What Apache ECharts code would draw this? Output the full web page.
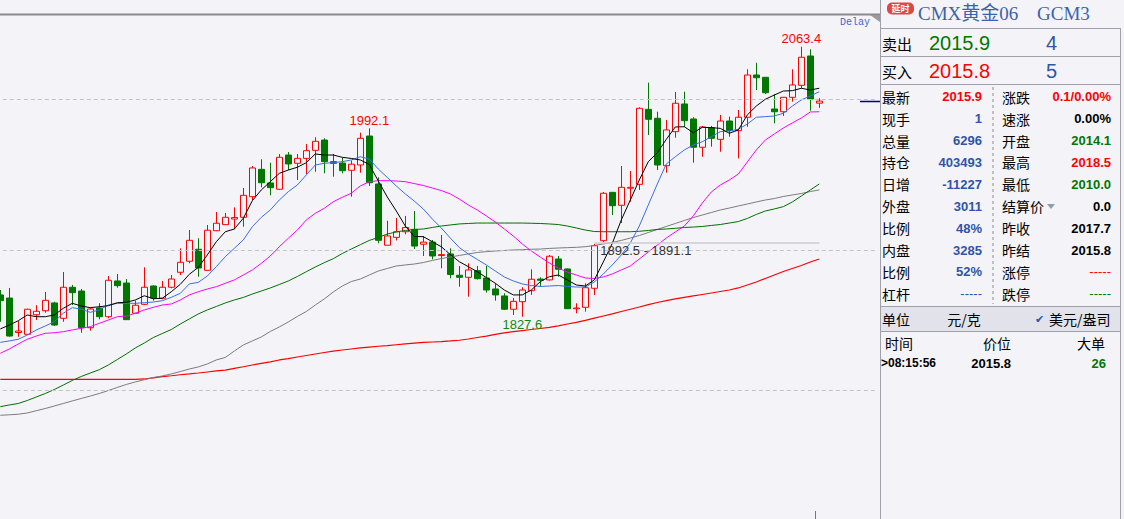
<!DOCTYPE html>
<html><head><meta charset="utf-8">
<script src="https://cdn.jsdelivr.net/npm/echarts/dist/echarts.min.js"></script>
<style>html,body{margin:0;padding:0;background:#f4f4f8;overflow:hidden}#c{width:1124px;height:519px}</style>
</head><body><div id="c"></div>
<script>
// ---------------- DATA ----------------
const opens = [1846.6,1843.9,1813.8,1812.2,1829.3,1832.8,1839.6,1826.2,1853.3,1850.0,
1818.0,1835.2,1827.6,1858.8,1857.0,1830.6,1838.4,1854.4,1843.7,1853.3,
1866.4,1876.0,1886.5,1868.1,1902.7,1908.0,1912.9,1914.4,1932.4,1956.3,
1944.4,1938.9,1968.8,1961.6,1965.9,1972.9,1981.9,1963.0,1961.8,1955.5,
1960.1,1985.4,1943.5,1890.0,1896.9,1901.8,1903.9,1890.9,1892.8,1881.0,
1882.4,1863.8,1862.0,1867.8,1861.4,1851.8,1845.7,1834.1,1840.7,1850.3,
1860.5,1859.7,1878.0,1869.3,1834.5,1835.8,1852.4,1894.0,1936.2,1924.9,
1939.8,1943.2,2008.7,2000.9,1959.5,1989.2,2013.4,2000.3,1975.6,1992.7,
1982.5,1998.5,1990.1,2001.8,2038.7,2036.7,2009.0,2006.6,2019.2,2029.7,
2055.3,2014.1];
const highs = [1850.9,1852.7,1823.8,1834.6,1837.6,1849.2,1840.7,1866.6,1855.3,1851.8,
1835.5,1839.3,1863.1,1864.9,1860.5,1841.6,1870.7,1855.0,1858.8,1864.0,
1887.3,1903.3,1896.1,1907.7,1919.0,1918.2,1923.1,1940.0,1959.2,1965.1,
1962.1,1969.7,1971.4,1969.7,1978.4,1984.3,1983.4,1969.7,1966.6,1964.0,
1988.3,1992.1,1949.3,1911.4,1913.8,1915.6,1919.9,1898.1,1894.6,1899.0,
1887.3,1871.9,1874.2,1871.9,1871.9,1856.8,1848.0,1843.9,1853.3,1869.0,
1862.0,1881.5,1880.6,1869.7,1839.3,1856.8,1891.1,1936.5,1936.5,1959.2,
1954.9,2010.5,2032.0,2006.6,1999.4,2023.9,2024.1,2001.8,1994.2,1994.2,
2003.8,2002.3,2008.1,2043.7,2049.4,2036.9,2022.1,2019.5,2043.7,2063.4,
2061.1,2018.5];
const lows = [1823.2,1810.1,1810.1,1811.6,1824.7,1831.1,1819.5,1823.2,1837.8,1813.6,
1815.4,1825.3,1826.2,1852.9,1824.7,1830.0,1837.8,1841.6,1842.8,1852.4,
1864.0,1874.2,1862.5,1867.8,1902.4,1907.7,1903.9,1906.2,1929.5,1940.6,
1933.6,1938.3,1955.7,1947.0,1952.2,1954.2,1952.8,1949.9,1952.8,1932.4,
1953.4,1941.8,1891.7,1889.8,1894.2,1899.6,1886.7,1880.6,1877.7,1869.9,
1861.1,1853.8,1845.1,1860.1,1848.6,1841.6,1833.4,1829.1,1827.6,1846.6,
1853.8,1859.2,1862.5,1834.3,1830.6,1832.0,1846.6,1892.5,1916.4,1909.4,
1928.0,1938.3,1986.3,1955.7,1953.4,1983.9,1993.5,1962.1,1967.3,1976.1,
1971.7,1984.8,1965.9,1993.5,2025.6,2022.1,1996.5,2002.9,2015.4,2027.1,
2007.5,2010.0];
const closes = [1841.6,1810.7,1815.1,1834.1,1832.3,1841.9,1820.3,1853.3,1848.6,1818.0,
1834.3,1827.6,1859.4,1854.7,1825.0,1837.6,1853.3,1843.9,1853.3,1860.5,
1875.1,1894.3,1870.1,1903.1,1909.2,1914.4,1914.2,1933.6,1957.5,1944.6,
1940.3,1966.8,1961.0,1965.9,1972.6,1980.8,1963.0,1961.6,1955.1,1960.8,
1983.4,1944.6,1894.3,1898.1,1901.8,1905.5,1889.3,1892.7,1880.6,1881.8,
1864.5,1862.0,1868.4,1860.8,1850.9,1846.6,1834.1,1841.0,1850.9,1860.3,
1859.4,1880.4,1869.0,1834.6,1835.2,1852.9,1889.6,1935.4,1924.5,1940.6,
1940.6,2009.6,2000.0,1960.1,1990.7,2014.0,1998.8,1975.6,1993.3,1983.4,
1998.5,1990.1,2001.8,2038.7,2036.3,2023.2,2006.6,2019.2,2030.0,2054.2,
2017.7,2015.9];

const maBlack = [1816.9,1820.3,1824.1,1829.1,1827.6,1827.6,1829.1,1834.9,1839.3,1836.9,
1835.5,1836.3,1837.2,1839.8,1840.2,1842.2,1845.9,1843.3,1843.7,1849.4,
1855.9,1864.6,1870.7,1881.5,1893.1,1901.8,1904.2,1913.5,1928.9,1938.3,
1945.5,1952.8,1955.7,1958.1,1962.1,1969.7,1968.8,1968.8,1966.8,1965.8,
1964.5,1960.5,1946.1,1932.1,1919.9,1906.8,1897.6,1897.5,1893.1,1888.7,
1881.9,1875.6,1871.3,1866.9,1861.8,1856.8,1850.9,1846.6,1846.6,1850.9,
1858.2,1862.5,1864.0,1859.7,1855.3,1854.4,1859.7,1875.4,1891.7,1912.1,
1929.5,1947.0,1963.0,1970.8,1982.5,1993.3,1993.5,1988.3,1993.0,1992.7,
1992.1,1987.8,1990.7,2003.8,2011.6,2017.5,2021.2,2024.7,2025.0,2027.1,
2025.6,2027.1];
const maBlue = [1805.2,1806.4,1807.9,1811.6,1816.0,1819.5,1823.2,1830.6,1835.5,1834.1,
1831.4,1833.5,1837.8,1839.3,1839.3,1839.3,1839.8,1840.4,1841.6,1844.5,
1848.0,1856.2,1857.6,1863.1,1871.3,1880.0,1887.3,1894.6,1906.2,1914.4,
1920.8,1929.5,1936.8,1942.6,1951.4,1960.1,1961.6,1962.1,1963.0,1964.5,
1967.3,1965.3,1956.6,1949.2,1941.8,1934.8,1928.6,1921.7,1912.9,1905.1,
1896.3,1888.0,1882.4,1877.6,1872.8,1867.5,1862.3,1858.8,1856.2,1854.8,
1854.0,1854.4,1854.8,1854.0,1853.5,1853.5,1857.9,1864.9,1872.8,1881.5,
1892.0,1906.8,1925.2,1943.5,1961.0,1967.3,1973.2,1977.6,1980.4,1984.8,
1989.2,1989.8,1991.3,1995.9,2001.8,2002.3,2002.9,2005.2,2011.6,2016.9,
2020.4,2024.1];
const maMagenta = [1795.6,1799.4,1803.8,1807.9,1810.7,1813.1,1813.6,1814.5,1816.0,1817.5,
1818.9,1821.8,1824.7,1827.6,1828.2,1830.6,1833.5,1835.8,1837.8,1838.7,
1842.2,1846.6,1849.4,1851.8,1853.8,1856.8,1859.7,1864.0,1868.4,1874.2,
1880.6,1888.7,1896.1,1903.3,1912.1,1917.9,1922.3,1928.0,1931.9,1935.4,
1941.8,1945.5,1946.4,1946.4,1946.1,1945.5,1943.9,1942.2,1940.0,1937.8,
1934.8,1930.4,1925.2,1920.8,1915.6,1910.3,1904.2,1898.1,1891.1,1885.0,
1879.7,1874.5,1870.1,1866.6,1864.0,1861.4,1861.0,1862.3,1864.9,1868.4,
1871.9,1878.0,1884.1,1890.2,1896.3,1901.6,1906.8,1915.6,1926.9,1936.5,
1942.6,1947.0,1952.2,1962.7,1973.2,1981.9,1987.2,1992.4,1996.8,2001.1,
2006.4,2006.6];
const maGreen = [1749.0,1750.5,1751.8,1754.4,1757.5,1760.5,1764.0,1767.9,1771.9,1775.4,
1778.4,1781.3,1785.4,1790.2,1795.0,1800.3,1804.6,1809.4,1812.9,1816.4,
1821.2,1825.6,1830.0,1833.5,1836.5,1839.6,1842.2,1844.4,1847.4,1850.0,
1852.7,1855.7,1858.8,1862.7,1866.9,1871.0,1874.8,1878.3,1882.8,1886.7,
1890.5,1894.2,1896.8,1899.8,1901.6,1902.9,1903.8,1904.2,1905.5,1906.8,
1907.7,1908.6,1909.0,1909.4,1909.4,1909.4,1909.4,1909.4,1909.4,1909.2,
1909.0,1908.6,1908.1,1906.8,1905.1,1903.3,1902.0,1901.8,1901.8,1901.8,
1901.8,1902.2,1902.9,1903.8,1904.2,1904.8,1905.5,1905.9,1906.4,1907.3,
1908.1,1909.4,1910.7,1913.4,1916.9,1919.9,1921.7,1923.7,1927.8,1933.0,
1938.3,1943.5];
const maGray = [1741.5,1741.9,1742.4,1743.5,1745.5,1747.4,1749.6,1751.8,1754.0,1756.2,
1758.3,1760.5,1763.1,1765.8,1768.4,1770.6,1772.5,1774.5,1775.8,1777.6,
1779.7,1781.9,1783.7,1786.3,1789.8,1792.0,1797.6,1802.9,1806.4,1809.9,
1814.7,1818.6,1823.0,1827.8,1832.1,1837.8,1843.1,1849.2,1854.4,1858.3,
1860.5,1864.0,1867.5,1869.7,1871.9,1872.8,1873.6,1874.9,1876.7,1878.4,
1879.7,1881.1,1882.4,1883.7,1884.4,1885.0,1885.4,1885.9,1886.1,1886.5,
1886.7,1887.2,1887.6,1887.9,1888.2,1888.7,1889.8,1891.1,1892.4,1894.2,
1896.3,1898.5,1901.1,1903.8,1906.4,1909.0,1911.6,1914.2,1916.4,1918.6,
1920.8,1922.5,1924.3,1926.0,1927.8,1929.5,1930.8,1932.6,1933.9,1935.2,
1936.9,1938.3];
const maRed = [1772.9,1772.9,1772.9,1772.9,1772.9,1772.9,1772.9,1772.9,1772.9,1772.9,
1772.9,1772.9,1772.9,1772.9,1772.9,1772.9,1773.2,1774.2,1775.2,1776.0,
1776.9,1777.6,1778.4,1779.3,1780.2,1781.0,1782.5,1783.9,1785.4,1786.9,
1788.2,1789.8,1790.9,1792.4,1793.7,1795.0,1796.3,1797.6,1798.5,1799.4,
1800.3,1801.1,1801.8,1802.4,1803.1,1803.8,1804.5,1805.1,1805.5,1805.9,
1806.4,1807.0,1808.1,1809.4,1810.7,1812.1,1813.4,1814.5,1815.5,1816.4,
1817.3,1818.3,1819.6,1821.2,1822.7,1824.4,1826.3,1828.2,1830.1,1832.1,
1834.1,1836.1,1838.1,1840.0,1841.6,1843.1,1844.4,1845.7,1847.0,1848.3,
1849.6,1850.9,1852.7,1855.3,1857.9,1861.0,1864.0,1867.1,1869.7,1872.3,
1875.4,1878.0];

const extremeIdx = [89, 41, 58];
const extremeVal = [2063.4, 1992.1, 1827.6];
const extremeKind = ['high', 'high', 'low'];
const gapIdx = [66, 91];
const gapVals = [1892.5, 1891.1];
const refLevels = [2017.7, 1885.6, 1763.3];
const lastPrice = 2015.9;
const slotCount = 98;

const titleParts = ['CMX黄金06', 'GCM3'];
const badgeText = '延时';
const delayText = 'Delay';
const bidAskLabels = ['卖出', '买入'];
const bidAskPrices = ['2015.9', '2015.8'];
const bidAskVolumes = ['4', '5'];
const leftLabels = ['最新','现手','总量','持仓','日增','外盘','比例','内盘','比例','杠杆'];
const leftValues = ['2015.9','1','6296','403493','-11227','3011','48%','3285','52%','-----'];
const rightLabels = ['涨跌','速涨','开盘','最高','最低','结算价','昨收','昨结','涨停','跌停'];
const rightValues = ['0.1/0.00%','0.00%','2014.1','2018.5','2010.0','0.0','2017.7','2015.8','-----','-----'];
const unitTexts = ['单位', '元/克', '美元/盎司'];
const tickHeaders = ['时间', '价位', '大单'];
const tickRow = ['>08:15:56', '2015.8', '26'];

// ---------------- STYLE ----------------
const BG = '#f4f4f8';
const RED = '#ff0000', GREEN = '#007700', BLUE = '#2f55a8', BLACK = '#000000';
const leftColors = [RED, BLUE, BLUE, BLUE, BLUE, BLUE, BLUE, BLUE, BLUE, BLUE];
const rightColors = [RED, BLACK, GREEN, RED, GREEN, BLACK, BLACK, BLACK, RED, GREEN];
const CJK = '"Noto Sans CJK SC", "Noto Sans", sans-serif';
const SANS = '"Liberation Sans", Arial, sans-serif';

const cats = Array.from({length: slotCount}, (_, i) => String(i + 1));
const candles = opens.map((o, i) => [o, closes[i], lows[i], highs[i]]);

function line(name, data, color, width) {
  return {type: 'line', name, data, symbol: 'none', smooth: false, silent: true,
    lineStyle: {color, width}, itemStyle: {color}, z: 3};
}

function txt(text, x, y, font, fill, align) {
  return {type: 'text', x, y, silent: true, z: 100,
    style: {text, font, fill, textAlign: align || 'left', textVerticalAlign: 'middle',
      align: align || 'left', verticalAlign: 'middle'}};
}
function ln(x1, y1, x2, y2, stroke, w, dash) {
  return {type: 'line', silent: true, z: 90, shape: {x1, y1, x2, y2},
    style: {stroke, lineWidth: w || 1, lineDash: dash || null}};
}

const g = [];
// chart top border, delay marker
g.push(ln(0, 14.5, 880, 14.5, '#8a8a8a', 2));
g.push({type: 'polygon', silent: true, z: 95, shape: {points: [[870, 15], [880, 15], [880, 22]]}, style: {fill: '#9a9a9a'}});
g.push(txt(delayText, 840, 22, '10px "Liberation Mono", monospace', '#3a66d0'));
g.push(ln(815.5, 511, 815.5, 519, '#777', 1));
// panel
g.push({type: 'rect', silent: true, z: 80, shape: {x: 880.5, y: 0, width: 244, height: 519}, style: {fill: BG}});
g.push(ln(880.5, 0, 880.5, 519, '#a0a0a8', 1));
g.push(ln(1120.5, 28, 1120.5, 519, '#a0a0a8', 1));
g.push(ln(880.5, 28.5, 1120.5, 28.5, '#a0a0a8', 1));
g.push(ln(880.5, 56.5, 1120.5, 56.5, '#a0a0a8', 1));
g.push(ln(880.5, 84.5, 1120.5, 84.5, '#a0a0a8', 1));
g.push({type: 'rect', silent: true, z: 85, shape: {x: 880.5, y: 306.5, width: 240, height: 25}, style: {fill: '#e2e2ea', stroke: '#a0a0a8', lineWidth: 1}});
g.push(ln(993, 87, 993, 304, '#8a8a8a', 1, [3, 3]));
// badge + title
g.push({type: 'rect', silent: true, z: 95, shape: {x: 887, y: 2.5, width: 27, height: 12, r: 5}, style: {fill: '#e04646'}});
g.push(txt(badgeText, 900.5, 8.5, 'bold 9px ' + CJK, '#ffffff', 'center'));
g.push(txt(titleParts[0], 918, 13, '19px "Liberation Serif", "Noto Sans CJK SC", serif', '#3d62ad'));
g.push(txt(titleParts[1], 1037, 13, '19px "Liberation Serif", serif', '#3d62ad'));
// bid / ask
const baY = [43, 71];
const baColor = [GREEN, RED];
for (let k = 0; k < 2; k++) {
  g.push(txt(bidAskLabels[k], 882, baY[k], '15px ' + CJK, BLACK));
  g.push(txt(bidAskPrices[k], 929, baY[k], '20px ' + SANS, baColor[k]));
  g.push(txt(bidAskVolumes[k], 1046, baY[k], '20px ' + SANS, BLUE));
}
// quote grid
for (let r = 0; r < leftLabels.length; r++) {
  const y = 96.7 + r * 21.9;
  g.push(txt(leftLabels[r], 882, y, '14px ' + CJK, BLACK));
  g.push(txt(leftValues[r], 982, y, (leftValues[r] === '-----' ? '' : 'bold ') + '13px ' + SANS, leftColors[r], 'right'));
  g.push(txt(rightLabels[r], 1002, y, '14px ' + CJK, BLACK));
  g.push(txt(rightValues[r], 1111, y, (rightValues[r] === '-----' ? '' : 'bold ') + '13px ' + SANS, rightColors[r], 'right'));
}
g.push({type: 'polygon', silent: true, z: 95, shape: {points: [[1047, 204], [1055, 204], [1051, 209]]}, style: {fill: '#9a9aa2'}});
// unit row
g.push(txt(unitTexts[0], 882, 318.5, '14px ' + CJK, BLACK));
g.push(txt(unitTexts[1], 964, 318.5, '14px ' + CJK, BLACK, 'center'));
g.push(txt('✔', 1035, 319, '11px "DejaVu Sans", sans-serif', '#2f55a8'));
g.push(txt(unitTexts[2], 1049, 318.5, '14px ' + CJK, BLACK));
// tick table
g.push(txt(tickHeaders[0], 885, 343, '14px ' + CJK, BLACK));
g.push(txt(tickHeaders[1], 997, 343, '14px ' + CJK, BLACK, 'center'));
g.push(txt(tickHeaders[2], 1091, 343, '14px ' + CJK, BLACK, 'center'));
g.push(txt(tickRow[0], 881, 363, 'bold 12px ' + SANS, BLACK));
g.push(txt(tickRow[1], 1011, 363, 'bold 13px ' + SANS, BLACK, 'right'));
g.push(txt(tickRow[2], 1106, 363, 'bold 13px ' + SANS, GREEN, 'right'));

const markPts = extremeIdx.map((idx, k) => ({
  coord: [idx, extremeVal[k]], value: extremeVal[k],
  label: {formatter: extremeVal[k].toFixed(1), color: extremeKind[k] === 'high' ? '#ff0000' : '#118811',
    offset: [0, extremeKind[k] === 'high' ? -8 : 8]}
}));
markPts.push({coord: [gapIdx[0], gapVals[0]], value: gapVals[0],
  label: {formatter: gapVals[0].toFixed(1) + ' - ' + gapVals[1].toFixed(1), color: '#333333', align: 'left', offset: [6, 8]}});

const chart = echarts.init(document.getElementById('c'), null, {renderer: 'svg'});
chart.setOption({
  animation: false,
  backgroundColor: BG,
  grid: {left: -4.2, top: 0, width: slotCount * 9, height: 519, outerBoundsMode: 'none', containLabel: false},
  xAxis: {type: 'category', data: cats, boundaryGap: true, show: false},
  yAxis: {type: 'value', min: 1650.9, max: 2104.2, show: false, scale: true, splitLine: {show: false}},
  series: [
    {type: 'candlestick', data: candles, barWidth: 7, z: 2,
      itemStyle: {color: BG, color0: GREEN, borderColor: RED, borderColor0: GREEN, borderWidth: 1},
      markLine: {silent: true, symbol: ['none', 'none'], label: {show: false}, animation: false,
        data: refLevels.map(v => ({yAxis: v, lineStyle: {type: [4, 3], color: '#c2c2ca', width: 1}}))
          .concat([[{coord: [gapIdx[0], gapVals[0]], lineStyle: {type: 'solid', color: '#cdcdd2', width: 1.5}},
                    {coord: [gapIdx[1], gapVals[0]]}]])},
      markPoint: {symbol: 'rect', symbolSize: 1, silent: true, itemStyle: {color: 'rgba(0,0,0,0)'},
        label: {show: true, position: 'inside', fontSize: 13, fontFamily: SANS},
        data: markPts}
    },
    line('redMA', maRed, '#ff0000', 1.2),
    line('grayMA', maGray, '#7c7c7c', 1),
    line('greenMA', maGreen, '#007000', 1),
    line('magentaMA', maMagenta, '#ff00ff', 1),
    line('blueMA', maBlue, '#3a6ee0', 1),
    line('blackMA', maBlack, '#000000', 1)
  ],
  graphic: {elements: g}
});
const yLast = chart.convertToPixel({yAxisIndex: 0}, lastPrice);
g.push(ln(860, Math.round(yLast) + 0.5, 880, Math.round(yLast) + 0.5, '#000080', 1.5));
chart.setOption({graphic: {elements: g}});
</script>
</body></html>
